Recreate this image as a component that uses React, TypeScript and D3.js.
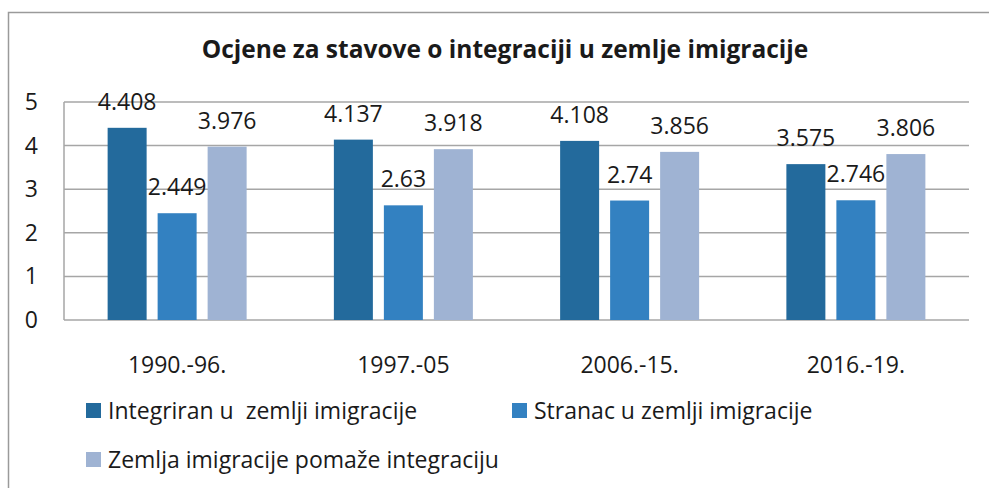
import React, { useEffect, useRef } from 'react';
import * as d3 from 'd3';

const title = 'Ocjene za stavove o integraciji u zemlje imigracije';
const periods = ['1990.-96.', '1997.-05', '2006.-15.', '2016.-19.'];
const seriesNames = [
  'Integriran u  zemlji imigracije',
  'Stranac u zemlji imigracije',
  'Zemlja imigracije pomaže integraciju',
];
const integrated = [4.408, 4.137, 4.108, 3.575];
const foreigner = [2.449, 2.63, 2.74, 2.746];
const countryHelps = [3.976, 3.918, 3.856, 3.806];
const yTicks = [0, 1, 2, 3, 4, 5];
const colors = ['#236a9c', '#3381c1', '#9fb3d3'];

const W = 989;
const H = 488;
const FONT = '"Open Sans", Lato, sans-serif';
const FS = 23;

export default function App() {
  const ref = useRef<SVGSVGElement>(null);

  useEffect(() => {
    const svg = d3.select(ref.current);
    svg.selectAll('*').remove();

    const left = 64, right = 969, top = 102, bottom = 320;
    const series = [integrated, foreigner, countryHelps];

    const x = d3.scaleBand().domain(periods).range([left, right]);
    const inner = d3.scaleBand().domain(['0', '1', '2']).range([0, 139]).paddingInner(0.22);
    const y = d3.scaleLinear().domain([0, 5]).range([bottom, top]);
    const barX = (i: number, si: number) => x(periods[i])! + x.bandwidth() / 2 - 69.5 + inner(String(si))!;

    // outer frame
    svg.append('rect')
      .attr('x', 8.5).attr('y', 12.5)
      .attr('width', 1000).attr('height', 600)
      .attr('fill', 'none').attr('stroke', '#9a9a9a').attr('stroke-width', 1.5);

    svg.append('text')
      .attr('x', 505).attr('y', 58)
      .attr('text-anchor', 'middle')
      .attr('font-family', FONT).attr('font-weight', 'bold')
      .attr('font-size', 24.5).attr('fill', '#1a1a1a')
      .text(title);

    // gridlines
    svg.append('g').selectAll('line').data(yTicks).enter().append('line')
      .attr('x1', left).attr('x2', right)
      .attr('y1', d => y(d)).attr('y2', d => y(d))
      .attr('stroke', '#a6a6a6').attr('stroke-width', 1.5);

    svg.append('line')
      .attr('x1', left).attr('x2', left).attr('y1', top).attr('y2', bottom)
      .attr('stroke', '#a6a6a6').attr('stroke-width', 1.5);

    svg.append('g').selectAll('text').data(yTicks).enter().append('text')
      .attr('x', 38).attr('y', d => y(d) + 8)
      .attr('text-anchor', 'end')
      .attr('font-family', FONT).attr('font-size', FS).attr('fill', '#1a1a1a')
      .text(d => d);

    // bars
    series.forEach((vals, si) => {
      const g = svg.append('g');
      g.selectAll('rect').data(vals).enter().append('rect')
        .attr('x', (d, i) => barX(i, si))
        .attr('y', d => y(d))
        .attr('width', inner.bandwidth())
        .attr('height', d => bottom - y(d))
        .attr('fill', colors[si]);
      g.selectAll('text').data(vals).enter().append('text')
        .attr('x', (d, i) => barX(i, si) + inner.bandwidth() / 2)
        .attr('y', d => y(d) - 18)
        .attr('text-anchor', 'middle')
        .attr('font-family', FONT).attr('font-size', FS).attr('fill', '#1a1a1a')
        .text(d => String(d));
    });

    // category labels
    svg.append('g').selectAll('text').data(periods).enter().append('text')
      .attr('x', d => x(d)! + x.bandwidth() / 2)
      .attr('y', 373)
      .attr('text-anchor', 'middle')
      .attr('font-family', FONT).attr('font-size', FS).attr('fill', '#1a1a1a')
      .text(d => d);

    // legend
    const legendPos = [[86, 411], [512, 411], [86, 460]];
    seriesNames.forEach((name, i) => {
      const [lx, ly] = legendPos[i];
      svg.append('rect')
        .attr('x', lx).attr('y', ly - 8).attr('width', 15).attr('height', 15)
        .attr('fill', colors[i]);
      svg.append('text')
        .attr('x', lx + 22).attr('y', ly + 8)
        .attr('font-family', FONT).attr('font-size', FS).attr('fill', '#1a1a1a')
        .attr('xml:space', 'preserve')
        .style('white-space', 'pre')
        .text(name);
    });
  }, []);

  return (
    <svg
      ref={ref}
      width={W}
      height={H}
      style={{ position: 'absolute', left: 0, top: 0, background: '#fff' }}
    />
  );
}
